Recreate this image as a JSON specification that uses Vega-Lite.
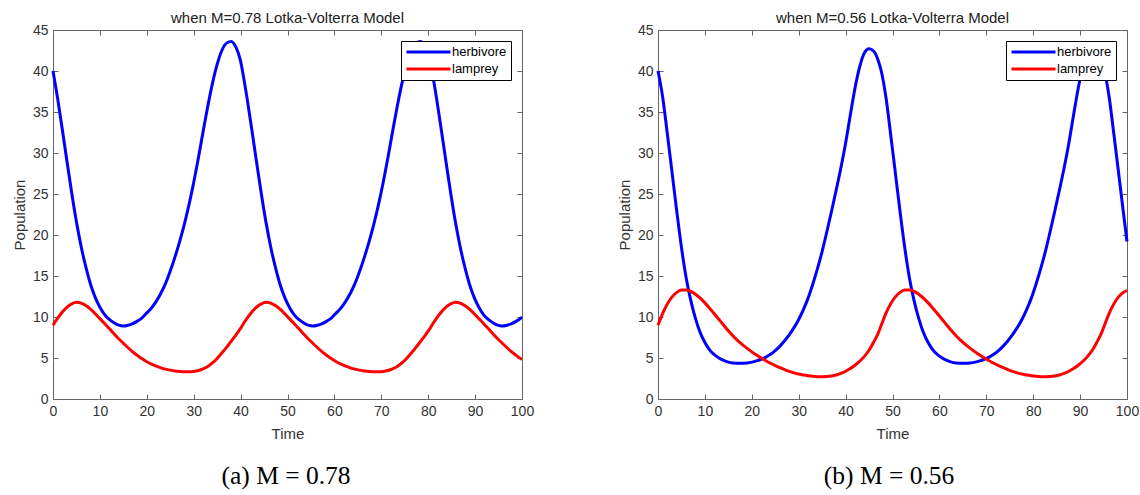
{
"$schema":"https://vega.github.io/schema/vega-lite/v6.json",
"background":"white",
"padding":{"left":11,"top":10,"right":5,"bottom":5},
"spacing":81,
"resolve":{"scale":{"color":"independent"},"legend":{"color":"independent"}},
"config":{
 "font":"Liberation Sans",
 "view":{"stroke":"#666666","strokeWidth":1},
 "axis":{"grid":false,"domainColor":"#666666","tickColor":"#666666","tickSize":-5,"labelFont":"Liberation Sans","labelFontSize":14,"labelColor":"#333333","labelPadding":10,"titleFont":"Liberation Sans","titleFontSize":15,"titleFontWeight":"normal","titleColor":"#333333","labelFlush":false,"labelOverlap":false},
 "title":{"font":"Liberation Sans","fontSize":15,"fontWeight":"normal","color":"#222222","offset":-3,"anchor":"middle"},
 "legend":{"orient":"top-right","offset":11,"padding":4,"rowPadding":3,"strokeColor":"#000000","fillColor":"#ffffff","cornerRadius":0,"symbolType":"M-1,0H7","symbolSize":121,"symbolStrokeWidth":3,"labelFont":"Liberation Sans","labelFontSize":13,"labelColor":"#000000","labelOffset":33}
},
"datasets":{
"a":[
{"t":0,"s":"herbivore","v":40.0},{"t":1,"s":"herbivore","v":36.6},{"t":2,"s":"herbivore","v":32.8},{"t":3,"s":"herbivore","v":28.9},{"t":4,"s":"herbivore","v":25.1},{"t":5,"s":"herbivore","v":21.6},{"t":6,"s":"herbivore","v":18.6},{"t":7,"s":"herbivore","v":16.1},{"t":8,"s":"herbivore","v":14.0},{"t":9,"s":"herbivore","v":12.4},{"t":10,"s":"herbivore","v":11.2},{"t":11,"s":"herbivore","v":10.3},{"t":12,"s":"herbivore","v":9.7},{"t":13,"s":"herbivore","v":9.3},{"t":14,"s":"herbivore","v":9.0},{"t":15,"s":"herbivore","v":8.9},{"t":16,"s":"herbivore","v":9.0},{"t":17,"s":"herbivore","v":9.2},{"t":18,"s":"herbivore","v":9.5},{"t":19,"s":"herbivore","v":9.9},{"t":20,"s":"herbivore","v":10.5},{"t":21,"s":"herbivore","v":11.1},{"t":22,"s":"herbivore","v":11.9},{"t":23,"s":"herbivore","v":12.9},{"t":24,"s":"herbivore","v":14.1},{"t":25,"s":"herbivore","v":15.6},{"t":26,"s":"herbivore","v":17.3},{"t":27,"s":"herbivore","v":19.2},{"t":28,"s":"herbivore","v":21.3},{"t":29,"s":"herbivore","v":23.7},{"t":30,"s":"herbivore","v":26.4},{"t":31,"s":"herbivore","v":29.4},{"t":32,"s":"herbivore","v":32.6},{"t":33,"s":"herbivore","v":35.7},{"t":34,"s":"herbivore","v":38.5},{"t":35,"s":"herbivore","v":40.8},{"t":36,"s":"herbivore","v":42.5},{"t":37,"s":"herbivore","v":43.4},{"t":38,"s":"herbivore","v":43.6},{"t":39,"s":"herbivore","v":42.9},{"t":40,"s":"herbivore","v":41.2},
{"t":40.4,"s":"herbivore","v":40.0},{"t":41.4,"s":"herbivore","v":36.6},{"t":42.4,"s":"herbivore","v":32.8},{"t":43.4,"s":"herbivore","v":28.9},{"t":44.4,"s":"herbivore","v":25.1},{"t":45.4,"s":"herbivore","v":21.6},{"t":46.4,"s":"herbivore","v":18.6},{"t":47.4,"s":"herbivore","v":16.1},{"t":48.4,"s":"herbivore","v":14.0},{"t":49.4,"s":"herbivore","v":12.4},{"t":50.4,"s":"herbivore","v":11.2},{"t":51.4,"s":"herbivore","v":10.3},{"t":52.4,"s":"herbivore","v":9.7},{"t":53.4,"s":"herbivore","v":9.3},{"t":54.4,"s":"herbivore","v":9.0},{"t":55.4,"s":"herbivore","v":8.9},{"t":56.4,"s":"herbivore","v":9.0},{"t":57.4,"s":"herbivore","v":9.2},{"t":58.4,"s":"herbivore","v":9.5},{"t":59.4,"s":"herbivore","v":9.9},{"t":60.4,"s":"herbivore","v":10.5},{"t":61.4,"s":"herbivore","v":11.1},{"t":62.4,"s":"herbivore","v":11.9},{"t":63.4,"s":"herbivore","v":12.9},{"t":64.4,"s":"herbivore","v":14.1},{"t":65.4,"s":"herbivore","v":15.6},{"t":66.4,"s":"herbivore","v":17.3},{"t":67.4,"s":"herbivore","v":19.2},{"t":68.4,"s":"herbivore","v":21.3},{"t":69.4,"s":"herbivore","v":23.7},{"t":70.4,"s":"herbivore","v":26.4},{"t":71.4,"s":"herbivore","v":29.4},{"t":72.4,"s":"herbivore","v":32.6},{"t":73.4,"s":"herbivore","v":35.7},{"t":74.4,"s":"herbivore","v":38.5},{"t":75.4,"s":"herbivore","v":40.8},{"t":76.4,"s":"herbivore","v":42.5},{"t":77.4,"s":"herbivore","v":43.4},{"t":78.4,"s":"herbivore","v":43.6},{"t":79.4,"s":"herbivore","v":42.9},{"t":80.4,"s":"herbivore","v":41.2},
{"t":80.8,"s":"herbivore","v":40.0},{"t":81.8,"s":"herbivore","v":36.6},{"t":82.8,"s":"herbivore","v":32.8},{"t":83.8,"s":"herbivore","v":28.9},{"t":84.8,"s":"herbivore","v":25.1},{"t":85.8,"s":"herbivore","v":21.6},{"t":86.8,"s":"herbivore","v":18.6},{"t":87.8,"s":"herbivore","v":16.1},{"t":88.8,"s":"herbivore","v":14.0},{"t":89.8,"s":"herbivore","v":12.4},{"t":90.8,"s":"herbivore","v":11.2},{"t":91.8,"s":"herbivore","v":10.3},{"t":92.8,"s":"herbivore","v":9.7},{"t":93.8,"s":"herbivore","v":9.3},{"t":94.8,"s":"herbivore","v":9.0},{"t":95.8,"s":"herbivore","v":8.9},{"t":96.8,"s":"herbivore","v":9.0},{"t":97.8,"s":"herbivore","v":9.2},{"t":98.8,"s":"herbivore","v":9.5},{"t":99.8,"s":"herbivore","v":9.9},{"t":100,"s":"herbivore","v":10.0},
{"t":0,"s":"lamprey","v":9.0},{"t":1,"s":"lamprey","v":9.85},{"t":2,"s":"lamprey","v":10.6},{"t":3,"s":"lamprey","v":11.2},{"t":4,"s":"lamprey","v":11.6},{"t":5,"s":"lamprey","v":11.8},{"t":6,"s":"lamprey","v":11.7},{"t":7,"s":"lamprey","v":11.4},{"t":8,"s":"lamprey","v":10.95},{"t":9,"s":"lamprey","v":10.4},{"t":10,"s":"lamprey","v":9.8},{"t":11,"s":"lamprey","v":9.2},{"t":12,"s":"lamprey","v":8.6},{"t":13,"s":"lamprey","v":7.95},{"t":14,"s":"lamprey","v":7.35},{"t":15,"s":"lamprey","v":6.8},{"t":16,"s":"lamprey","v":6.25},{"t":17,"s":"lamprey","v":5.75},{"t":18,"s":"lamprey","v":5.3},{"t":19,"s":"lamprey","v":4.9},{"t":20,"s":"lamprey","v":4.55},{"t":21,"s":"lamprey","v":4.25},{"t":22,"s":"lamprey","v":4.0},{"t":23,"s":"lamprey","v":3.8},{"t":24,"s":"lamprey","v":3.64},{"t":25,"s":"lamprey","v":3.52},{"t":26,"s":"lamprey","v":3.42},{"t":27,"s":"lamprey","v":3.35},{"t":28,"s":"lamprey","v":3.31},{"t":29,"s":"lamprey","v":3.31},{"t":30,"s":"lamprey","v":3.36},{"t":31,"s":"lamprey","v":3.47},{"t":32,"s":"lamprey","v":3.67},{"t":33,"s":"lamprey","v":3.97},{"t":34,"s":"lamprey","v":4.4},{"t":35,"s":"lamprey","v":4.95},{"t":36,"s":"lamprey","v":5.6},{"t":37,"s":"lamprey","v":6.3},{"t":38,"s":"lamprey","v":7.05},{"t":39,"s":"lamprey","v":7.8},{"t":40,"s":"lamprey","v":8.62},
{"t":40.4,"s":"lamprey","v":9.0},{"t":41.4,"s":"lamprey","v":9.85},{"t":42.4,"s":"lamprey","v":10.6},{"t":43.4,"s":"lamprey","v":11.2},{"t":44.4,"s":"lamprey","v":11.6},{"t":45.4,"s":"lamprey","v":11.8},{"t":46.4,"s":"lamprey","v":11.7},{"t":47.4,"s":"lamprey","v":11.4},{"t":48.4,"s":"lamprey","v":10.95},{"t":49.4,"s":"lamprey","v":10.4},{"t":50.4,"s":"lamprey","v":9.8},{"t":51.4,"s":"lamprey","v":9.2},{"t":52.4,"s":"lamprey","v":8.6},{"t":53.4,"s":"lamprey","v":7.95},{"t":54.4,"s":"lamprey","v":7.35},{"t":55.4,"s":"lamprey","v":6.8},{"t":56.4,"s":"lamprey","v":6.25},{"t":57.4,"s":"lamprey","v":5.75},{"t":58.4,"s":"lamprey","v":5.3},{"t":59.4,"s":"lamprey","v":4.9},{"t":60.4,"s":"lamprey","v":4.55},{"t":61.4,"s":"lamprey","v":4.25},{"t":62.4,"s":"lamprey","v":4.0},{"t":63.4,"s":"lamprey","v":3.8},{"t":64.4,"s":"lamprey","v":3.64},{"t":65.4,"s":"lamprey","v":3.52},{"t":66.4,"s":"lamprey","v":3.42},{"t":67.4,"s":"lamprey","v":3.35},{"t":68.4,"s":"lamprey","v":3.31},{"t":69.4,"s":"lamprey","v":3.31},{"t":70.4,"s":"lamprey","v":3.36},{"t":71.4,"s":"lamprey","v":3.47},{"t":72.4,"s":"lamprey","v":3.67},{"t":73.4,"s":"lamprey","v":3.97},{"t":74.4,"s":"lamprey","v":4.4},{"t":75.4,"s":"lamprey","v":4.95},{"t":76.4,"s":"lamprey","v":5.6},{"t":77.4,"s":"lamprey","v":6.3},{"t":78.4,"s":"lamprey","v":7.05},{"t":79.4,"s":"lamprey","v":7.8},{"t":80.4,"s":"lamprey","v":8.62},
{"t":80.8,"s":"lamprey","v":9.0},{"t":81.8,"s":"lamprey","v":9.85},{"t":82.8,"s":"lamprey","v":10.6},{"t":83.8,"s":"lamprey","v":11.2},{"t":84.8,"s":"lamprey","v":11.6},{"t":85.8,"s":"lamprey","v":11.8},{"t":86.8,"s":"lamprey","v":11.7},{"t":87.8,"s":"lamprey","v":11.4},{"t":88.8,"s":"lamprey","v":10.95},{"t":89.8,"s":"lamprey","v":10.4},{"t":90.8,"s":"lamprey","v":9.8},{"t":91.8,"s":"lamprey","v":9.2},{"t":92.8,"s":"lamprey","v":8.6},{"t":93.8,"s":"lamprey","v":7.95},{"t":94.8,"s":"lamprey","v":7.35},{"t":95.8,"s":"lamprey","v":6.8},{"t":96.8,"s":"lamprey","v":6.25},{"t":97.8,"s":"lamprey","v":5.75},{"t":98.8,"s":"lamprey","v":5.3},{"t":99.8,"s":"lamprey","v":4.9},{"t":100,"s":"lamprey","v":4.85}
],
"b":[
{"t":0,"s":"herbivore","v":40.0},{"t":1,"s":"herbivore","v":36.8},{"t":2,"s":"herbivore","v":32.3},{"t":3,"s":"herbivore","v":27.6},{"t":4,"s":"herbivore","v":22.9},{"t":5,"s":"herbivore","v":18.5},{"t":6,"s":"herbivore","v":14.8},{"t":7,"s":"herbivore","v":12.0},{"t":8,"s":"herbivore","v":9.8},{"t":9,"s":"herbivore","v":8.1},{"t":10,"s":"herbivore","v":6.9},{"t":11,"s":"herbivore","v":6.0},{"t":12,"s":"herbivore","v":5.4},{"t":13,"s":"herbivore","v":5.0},{"t":14,"s":"herbivore","v":4.7},{"t":15,"s":"herbivore","v":4.5},{"t":16,"s":"herbivore","v":4.4},{"t":17,"s":"herbivore","v":4.35},{"t":18,"s":"herbivore","v":4.35},{"t":19,"s":"herbivore","v":4.4},{"t":20,"s":"herbivore","v":4.5},{"t":21,"s":"herbivore","v":4.65},{"t":22,"s":"herbivore","v":4.85},{"t":23,"s":"herbivore","v":5.1},{"t":24,"s":"herbivore","v":5.45},{"t":25,"s":"herbivore","v":5.9},{"t":26,"s":"herbivore","v":6.45},{"t":27,"s":"herbivore","v":7.1},{"t":28,"s":"herbivore","v":7.85},{"t":29,"s":"herbivore","v":8.7},{"t":30,"s":"herbivore","v":9.7},{"t":31,"s":"herbivore","v":10.9},{"t":32,"s":"herbivore","v":12.3},{"t":33,"s":"herbivore","v":14.0},{"t":34,"s":"herbivore","v":15.9},{"t":35,"s":"herbivore","v":18.0},{"t":36,"s":"herbivore","v":20.4},{"t":37,"s":"herbivore","v":22.9},{"t":38,"s":"herbivore","v":25.5},{"t":39,"s":"herbivore","v":28.2},{"t":40,"s":"herbivore","v":31.2},{"t":41,"s":"herbivore","v":34.6},{"t":42,"s":"herbivore","v":37.9},{"t":43,"s":"herbivore","v":40.5},{"t":44,"s":"herbivore","v":42.2},{"t":45,"s":"herbivore","v":42.7},{"t":46,"s":"herbivore","v":42.4},{"t":47,"s":"herbivore","v":41.2},
{"t":47.6,"s":"herbivore","v":40.0},{"t":48.6,"s":"herbivore","v":36.8},{"t":49.6,"s":"herbivore","v":32.3},{"t":50.6,"s":"herbivore","v":27.6},{"t":51.6,"s":"herbivore","v":22.9},{"t":52.6,"s":"herbivore","v":18.5},{"t":53.6,"s":"herbivore","v":14.8},{"t":54.6,"s":"herbivore","v":12.0},{"t":55.6,"s":"herbivore","v":9.8},{"t":56.6,"s":"herbivore","v":8.1},{"t":57.6,"s":"herbivore","v":6.9},{"t":58.6,"s":"herbivore","v":6.0},{"t":59.6,"s":"herbivore","v":5.4},{"t":60.6,"s":"herbivore","v":5.0},{"t":61.6,"s":"herbivore","v":4.7},{"t":62.6,"s":"herbivore","v":4.5},{"t":63.6,"s":"herbivore","v":4.4},{"t":64.6,"s":"herbivore","v":4.35},{"t":65.6,"s":"herbivore","v":4.35},{"t":66.6,"s":"herbivore","v":4.4},{"t":67.6,"s":"herbivore","v":4.5},{"t":68.6,"s":"herbivore","v":4.65},{"t":69.6,"s":"herbivore","v":4.85},{"t":70.6,"s":"herbivore","v":5.1},{"t":71.6,"s":"herbivore","v":5.45},{"t":72.6,"s":"herbivore","v":5.9},{"t":73.6,"s":"herbivore","v":6.45},{"t":74.6,"s":"herbivore","v":7.1},{"t":75.6,"s":"herbivore","v":7.85},{"t":76.6,"s":"herbivore","v":8.7},{"t":77.6,"s":"herbivore","v":9.7},{"t":78.6,"s":"herbivore","v":10.9},{"t":79.6,"s":"herbivore","v":12.3},{"t":80.6,"s":"herbivore","v":14.0},{"t":81.6,"s":"herbivore","v":15.9},{"t":82.6,"s":"herbivore","v":18.0},{"t":83.6,"s":"herbivore","v":20.4},{"t":84.6,"s":"herbivore","v":22.9},{"t":85.6,"s":"herbivore","v":25.5},{"t":86.6,"s":"herbivore","v":28.2},{"t":87.6,"s":"herbivore","v":31.2},{"t":88.6,"s":"herbivore","v":34.6},{"t":89.6,"s":"herbivore","v":37.9},{"t":90.6,"s":"herbivore","v":40.5},{"t":91.6,"s":"herbivore","v":42.2},{"t":92.6,"s":"herbivore","v":42.7},{"t":93.6,"s":"herbivore","v":42.4},{"t":94.6,"s":"herbivore","v":41.2},
{"t":95.2,"s":"herbivore","v":40.0},{"t":96.2,"s":"herbivore","v":36.8},{"t":97.2,"s":"herbivore","v":32.3},{"t":98.2,"s":"herbivore","v":27.6},{"t":99.2,"s":"herbivore","v":22.9},{"t":100,"s":"herbivore","v":19.2},
{"t":0,"s":"lamprey","v":9.0},{"t":1,"s":"lamprey","v":10.45},{"t":2,"s":"lamprey","v":11.6},{"t":3,"s":"lamprey","v":12.45},{"t":4,"s":"lamprey","v":13.0},{"t":5,"s":"lamprey","v":13.28},{"t":6,"s":"lamprey","v":13.3},{"t":7,"s":"lamprey","v":13.12},{"t":8,"s":"lamprey","v":12.78},{"t":9,"s":"lamprey","v":12.3},{"t":10,"s":"lamprey","v":11.72},{"t":11,"s":"lamprey","v":11.08},{"t":12,"s":"lamprey","v":10.4},{"t":13,"s":"lamprey","v":9.7},{"t":14,"s":"lamprey","v":9.0},{"t":15,"s":"lamprey","v":8.32},{"t":16,"s":"lamprey","v":7.68},{"t":17,"s":"lamprey","v":7.12},{"t":18,"s":"lamprey","v":6.62},{"t":19,"s":"lamprey","v":6.17},{"t":20,"s":"lamprey","v":5.75},{"t":21,"s":"lamprey","v":5.36},{"t":22,"s":"lamprey","v":5.0},{"t":23,"s":"lamprey","v":4.67},{"t":24,"s":"lamprey","v":4.36},{"t":25,"s":"lamprey","v":4.08},{"t":26,"s":"lamprey","v":3.82},{"t":27,"s":"lamprey","v":3.58},{"t":28,"s":"lamprey","v":3.37},{"t":29,"s":"lamprey","v":3.19},{"t":30,"s":"lamprey","v":3.04},{"t":31,"s":"lamprey","v":2.92},{"t":32,"s":"lamprey","v":2.83},{"t":33,"s":"lamprey","v":2.76},{"t":34,"s":"lamprey","v":2.72},{"t":35,"s":"lamprey","v":2.71},{"t":36,"s":"lamprey","v":2.73},{"t":37,"s":"lamprey","v":2.8},{"t":38,"s":"lamprey","v":2.93},{"t":39,"s":"lamprey","v":3.12},{"t":40,"s":"lamprey","v":3.38},{"t":41,"s":"lamprey","v":3.72},{"t":42,"s":"lamprey","v":4.12},{"t":43,"s":"lamprey","v":4.6},{"t":44,"s":"lamprey","v":5.2},{"t":45,"s":"lamprey","v":5.95},{"t":46,"s":"lamprey","v":6.95},{"t":47,"s":"lamprey","v":8.1},
{"t":47.6,"s":"lamprey","v":9.0},{"t":48.6,"s":"lamprey","v":10.45},{"t":49.6,"s":"lamprey","v":11.6},{"t":50.6,"s":"lamprey","v":12.45},{"t":51.6,"s":"lamprey","v":13.0},{"t":52.6,"s":"lamprey","v":13.28},{"t":53.6,"s":"lamprey","v":13.3},{"t":54.6,"s":"lamprey","v":13.12},{"t":55.6,"s":"lamprey","v":12.78},{"t":56.6,"s":"lamprey","v":12.3},{"t":57.6,"s":"lamprey","v":11.72},{"t":58.6,"s":"lamprey","v":11.08},{"t":59.6,"s":"lamprey","v":10.4},{"t":60.6,"s":"lamprey","v":9.7},{"t":61.6,"s":"lamprey","v":9.0},{"t":62.6,"s":"lamprey","v":8.32},{"t":63.6,"s":"lamprey","v":7.68},{"t":64.6,"s":"lamprey","v":7.12},{"t":65.6,"s":"lamprey","v":6.62},{"t":66.6,"s":"lamprey","v":6.17},{"t":67.6,"s":"lamprey","v":5.75},{"t":68.6,"s":"lamprey","v":5.36},{"t":69.6,"s":"lamprey","v":5.0},{"t":70.6,"s":"lamprey","v":4.67},{"t":71.6,"s":"lamprey","v":4.36},{"t":72.6,"s":"lamprey","v":4.08},{"t":73.6,"s":"lamprey","v":3.82},{"t":74.6,"s":"lamprey","v":3.58},{"t":75.6,"s":"lamprey","v":3.37},{"t":76.6,"s":"lamprey","v":3.19},{"t":77.6,"s":"lamprey","v":3.04},{"t":78.6,"s":"lamprey","v":2.92},{"t":79.6,"s":"lamprey","v":2.83},{"t":80.6,"s":"lamprey","v":2.76},{"t":81.6,"s":"lamprey","v":2.72},{"t":82.6,"s":"lamprey","v":2.71},{"t":83.6,"s":"lamprey","v":2.73},{"t":84.6,"s":"lamprey","v":2.8},{"t":85.6,"s":"lamprey","v":2.93},{"t":86.6,"s":"lamprey","v":3.12},{"t":87.6,"s":"lamprey","v":3.38},{"t":88.6,"s":"lamprey","v":3.72},{"t":89.6,"s":"lamprey","v":4.12},{"t":90.6,"s":"lamprey","v":4.6},{"t":91.6,"s":"lamprey","v":5.2},{"t":92.6,"s":"lamprey","v":5.95},{"t":93.6,"s":"lamprey","v":6.95},{"t":94.6,"s":"lamprey","v":8.1},
{"t":95.2,"s":"lamprey","v":9.0},{"t":96.2,"s":"lamprey","v":10.45},{"t":97.2,"s":"lamprey","v":11.6},{"t":98.2,"s":"lamprey","v":12.45},{"t":99.2,"s":"lamprey","v":13.0},{"t":100,"s":"lamprey","v":13.22}
]
},
"hconcat":[
{
 "title":{"text":"(a) M = 0.78","orient":"bottom","font":"Liberation Serif","fontSize":25.5,"color":"#000000","offset":22,"anchor":"middle","dx":13},
 "resolve":{"scale":{"color":"independent"},"legend":{"color":"independent"}},
 "vconcat":[{
  "title":{"text":"when M=0.78 Lotka-Volterra Model"},
  "width":469,"height":369,
  "data":{"name":"a"},
  "resolve":{"axis":{"x":"independent","y":"independent"}},
  "layer":[
   {"mark":{"type":"point","opacity":0},
    "encoding":{
     "x":{"field":"t","type":"quantitative","scale":{"domain":[0,100],"nice":false},"axis":{"orient":"top","labels":false,"title":null,"domain":false,"values":[0,10,20,30,40,50,60,70,80,90,100]}},
     "y":{"field":"v","type":"quantitative","scale":{"domain":[0,45],"nice":false},"axis":{"orient":"right","labels":false,"title":null,"domain":false,"values":[0,5,10,15,20,25,30,35,40,45]}}}},
   {"mark":{"type":"line","strokeWidth":3,"interpolate":"monotone"},
    "encoding":{
     "x":{"field":"t","type":"quantitative","scale":{"domain":[0,100],"nice":false},"axis":{"orient":"bottom","title":"Time","titlePadding":8,"values":[0,10,20,30,40,50,60,70,80,90,100]}},
     "y":{"field":"v","type":"quantitative","scale":{"domain":[0,45],"nice":false},"axis":{"orient":"left","title":"Population","titlePadding":5,"values":[0,5,10,15,20,25,30,35,40,45]}},
     "color":{"field":"s","type":"nominal","scale":{"domain":["herbivore","lamprey"],"range":["#0000ff","#ff0000"]},"legend":{"title":null}}}}
  ]
 }]
},
{
 "title":{"text":"(b) M = 0.56","orient":"bottom","font":"Liberation Serif","fontSize":25.5,"color":"#000000","offset":22,"anchor":"middle","dx":11},
 "resolve":{"scale":{"color":"independent"},"legend":{"color":"independent"}},
 "vconcat":[{
  "title":{"text":"when M=0.56 Lotka-Volterra Model"},
  "width":469,"height":369,
  "data":{"name":"b"},
  "resolve":{"axis":{"x":"independent","y":"independent"}},
  "layer":[
   {"mark":{"type":"point","opacity":0},
    "encoding":{
     "x":{"field":"t","type":"quantitative","scale":{"domain":[0,100],"nice":false},"axis":{"orient":"top","labels":false,"title":null,"domain":false,"values":[0,10,20,30,40,50,60,70,80,90,100]}},
     "y":{"field":"v","type":"quantitative","scale":{"domain":[0,45],"nice":false},"axis":{"orient":"right","labels":false,"title":null,"domain":false,"values":[0,5,10,15,20,25,30,35,40,45]}}}},
   {"mark":{"type":"line","strokeWidth":3,"interpolate":"monotone"},
    "encoding":{
     "x":{"field":"t","type":"quantitative","scale":{"domain":[0,100],"nice":false},"axis":{"orient":"bottom","title":"Time","titlePadding":8,"values":[0,10,20,30,40,50,60,70,80,90,100]}},
     "y":{"field":"v","type":"quantitative","scale":{"domain":[0,45],"nice":false},"axis":{"orient":"left","title":"Population","titlePadding":5,"values":[0,5,10,15,20,25,30,35,40,45]}},
     "color":{"field":"s","type":"nominal","scale":{"domain":["herbivore","lamprey"],"range":["#0000ff","#ff0000"]},"legend":{"title":null}}}}
  ]
 }]
}
]
}
